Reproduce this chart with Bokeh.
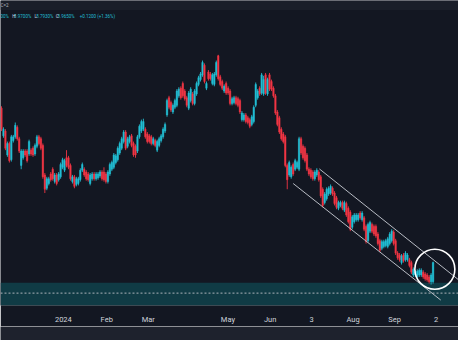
from bokeh.plotting import figure
from bokeh.models import BoxAnnotation, Span, Label, FixedTicker, ColumnDataSource
from bokeh.layouts import column
from bokeh.embed import file_html
from bokeh.resources import INLINE

# daily candles, values in basis points of yield (divide by 100 for %)
open_bp = [
    1059,1030,1035,1010,1022,1005,1025,1029,1039,1027,
    999,1007,1014,1014,1011,1015,1017,1011,1019,1029,
    1027,1020,989,975,980,990,995,982,989,984,
    987,997,994,1007,1007,999,982,987,979,980,
    984,994,995,992,990,980,985,990,985,986,
    988,992,992,990,982,990,995,997,1002,1005,
    1012,1017,1024,1034,1019,1024,1030,1022,1019,1014,
    1029,1035,1037,1037,1032,1030,1029,1022,1025,1015,
    1020,1025,1029,1035,1052,1070,1065,1055,1060,1062,
    1072,1080,1085,1077,1070,1059,1067,1074,1064,1074,
    1084,1089,1094,1104,1080,1097,1095,1085,1084,1094,
    1114,1092,1087,1077,1085,1080,1077,1064,1065,1070,
    1069,1067,1047,1047,1052,1049,1047,1042,1045,1062,
    1070,1080,1075,1074,1094,1074,1094,1087,1080,1072,
    1055,1049,1037,1032,1029,999,989,987,1000,995,
    997,995,1027,1019,1017,1010,995,994,992,985,
    989,992,987,974,960,964,969,970,975,970,
    965,954,957,960,952,959,954,950,934,940,
    942,942,949,942,944,935,920,930,937,935,
    935,927,920,912,914,915,914,917,920,929,
    920,907,905,897,905,900,900,900,897,884,
    884,882,884,884,887,885,884,882,877,877,
]
high_bp = [
    1061,1039,1037,1024,1024,1031,1031,1044,1041,1029,
    1016,1016,1016,1016,1026,1017,1019,1022,1031,1031,
    1029,1022,991,987,987,992,997,991,991,992,
    1002,1007,1006,1015,1009,1001,989,989,987,987,
    996,1002,997,994,992,991,992,992,992,992,
    994,994,997,992,994,1002,1004,1012,1011,1019,
    1024,1029,1036,1036,1029,1031,1032,1024,1021,1031,
    1042,1047,1048,1039,1034,1032,1031,1029,1027,1026,
    1029,1032,1039,1044,1069,1072,1067,1064,1069,1079,
    1081,1082,1087,1079,1072,1077,1081,1076,1079,1087,
    1093,1097,1109,1106,1087,1099,1097,1096,1097,1109,
    1115,1094,1089,1084,1087,1082,1079,1071,1072,1072,
    1071,1069,1056,1054,1054,1051,1049,1052,1062,1086,
    1079,1082,1096,1093,1096,1091,1096,1089,1082,1074,
    1057,1051,1039,1034,1031,1001,1004,999,1002,1006,
    1004,1029,1029,1021,1019,1012,997,996,994,994,
    996,994,989,976,971,976,977,979,977,972,
    967,962,962,962,962,961,956,952,947,949,
    949,949,951,951,946,937,939,941,939,937,
    937,929,922,921,921,922,924,929,932,931,
    922,909,907,906,907,909,907,902,899,892,
    889,890,891,891,889,887,886,884,886,898,
]
low_bp = [
    1035,1028,1015,1008,1002,1003,1023,1027,1025,1012,
    995,1005,1008,1002,1009,1009,1008,1009,1017,1020,
    1015,985,970,973,978,982,983,980,978,982,
    985,995,992,997,995,983,980,975,977,978,
    982,992,987,983,982,978,983,983,983,984,
    986,983,982,980,980,988,993,995,1000,1003,
    1010,1015,1022,1015,1017,1022,1018,1008,1007,1012,
    1027,1033,1035,1027,1022,1022,1020,1020,1018,1013,
    1018,1023,1027,1033,1050,1058,1055,1053,1058,1060,
    1070,1068,1070,1067,1060,1057,1065,1062,1062,1072,
    1082,1087,1092,1085,1078,1088,1088,1083,1082,1092,
    1088,1082,1078,1075,1073,1073,1062,1062,1063,1062,
    1060,1053,1045,1045,1043,1042,1038,1040,1043,1060,
    1068,1072,1073,1072,1073,1072,1077,1077,1070,1052,
    1040,1032,1025,1022,997,974,987,985,988,993,
    995,993,1010,1005,1002,993,988,985,983,983,
    987,982,965,955,958,962,967,968,967,957,
    953,952,955,952,950,945,938,930,932,938,
    940,940,942,940,930,917,918,928,928,925,
    923,915,908,910,912,913,912,915,918,915,
    905,900,898,895,897,898,898,892,885,882,
    882,880,882,882,880,878,877,875,874,875,
]
close_bp = [
    1037,1037,1017,1022,1004,1029,1029,1041,1027,1014,
    1014,1014,1010,1004,1024,1011,1010,1020,1029,1022,
    1017,987,974,985,985,984,985,989,980,990,
    1000,1005,1004,999,997,985,987,977,985,985,
    994,1000,989,985,984,989,990,985,990,990,
    992,985,984,982,992,1000,1002,1010,1009,1017,
    1022,1027,1034,1017,1027,1029,1020,1010,1010,1029,
    1040,1045,1045,1029,1024,1024,1022,1027,1020,1024,
    1027,1030,1037,1042,1067,1060,1057,1062,1067,1077,
    1079,1070,1072,1069,1062,1075,1079,1064,1077,1085,
    1091,1095,1107,1087,1085,1090,1090,1094,1095,1107,
    1090,1084,1080,1082,1075,1075,1064,1069,1070,1064,
    1062,1055,1054,1052,1045,1044,1040,1050,1060,1084,
    1077,1074,1094,1089,1075,1089,1079,1079,1072,1054,
    1042,1034,1027,1024,999,984,1002,997,990,1004,
    1002,1027,1012,1007,1004,995,990,987,985,992,
    994,984,967,957,969,974,975,977,969,959,
    955,960,960,954,960,947,940,932,945,947,
    947,947,944,949,932,919,937,939,930,927,
    925,917,910,919,919,920,922,927,930,917,
    907,902,900,904,899,907,905,894,887,890,
    887,888,889,889,882,880,879,877,884,897,
]

# x-axis month ticks (candle index positions) and labels
tick_pos = [31.4, 53.4, 74.5, 114.9, 136.3, 157.4, 178.4, 199.5, 220.6]
tick_labels = ["2024", "Feb", "Mar", "May", "Jun", "3", "Aug", "Sep", "2"]

# descending channel (candle index, yield %)
upper_x = [161.3, 231.9]
upper_y = [9.953, 8.79]
lower_x = [148.0, 222.9]
lower_y = [9.80, 8.577]
circle_x = [219.9]
circle_y = [8.90]

zone_top = 8.76
zone_mid = 8.65

header_values = ["00%", "8.9700%", "8.7930%", "8.9650%", "+0.1200 (+1.36%)"]
header_letters = ["H", "L", "C"]

BG = "#131722"
UP = "#22bfd4"
DOWN = "#f23645"

n = len(close_bp)
xs = list(range(n))
o = [v / 100 for v in open_bp]
h = [v / 100 for v in high_bp]
l = [v / 100 for v in low_bp]
c = [v / 100 for v in close_bp]
colors = [UP if cc >= oo else DOWN for oo, cc in zip(o, c)]
top = [max(a, b) for a, b in zip(o, c)]
bot = [min(a, b) for a, b in zip(o, c)]
src = ColumnDataSource(dict(x=xs, o=o, h=h, l=l, c=c, color=colors, top=top, bot=bot))

p = figure(width=458, height=326, x_range=(-0.5, 231.9), y_range=(8.52, 11.72),
           output_backend="svg", toolbar_location=None, y_axis_location=None,
           min_border_left=0, min_border_right=0, min_border_top=0, min_border_bottom=20,
           background_fill_color=BG, border_fill_color=BG, outline_line_color=None)
p.grid.visible = False

p.add_layout(BoxAnnotation(bottom=11.62, fill_color="#1a1e29", fill_alpha=1, line_color=None, level="underlay"))
p.add_layout(BoxAnnotation(top=zone_top, fill_color="#103b45", fill_alpha=1, line_color=None, level="underlay"))
p.add_layout(Span(location=zone_mid, dimension="width", line_color="#aeb3bb", line_width=1,
                  line_dash="2 2", level="underlay"))

p.segment(x0="x", y0="l", x1="x", y1="h", line_color="color", line_width=0.9, source=src)
p.vbar(x="x", width=0.72, top="top", bottom="bot", fill_color="color", line_color="color",
       line_width=0.5, source=src)

p.line(upper_x, upper_y, line_color="#b8bcc4", line_width=1)
p.line(lower_x, lower_y, line_color="#b8bcc4", line_width=1)
p.scatter(circle_x, circle_y, marker="circle", size=40, fill_alpha=0, line_color="#ffffff", line_width=1.6)

xa = p.xaxis[0]
xa.ticker = FixedTicker(ticks=tick_pos)
xa.major_label_overrides = {t: lab for t, lab in zip(tick_pos, tick_labels)}
xa.axis_line_color = None
xa.major_tick_line_color = None
xa.minor_tick_line_color = None
xa.major_tick_in = 0
xa.major_tick_out = 0
xa.major_label_standoff = 9
xa.major_label_text_color = "#d1d4dc"
xa.major_label_text_font = "Roboto"
xa.major_label_text_font_size = "7.5px"

# header texts
hf = "Roboto"
p.add_layout(Label(x=-0.5, y=11.67, text="C=2", text_color="#b2b5be", text_font=hf, text_font_size="4.5px",
                   text_baseline="middle"))
hy = 11.55
for xx, t in zip([-0.5, 6.4, 17.6, 28.4, 39.7], header_values):
    p.add_layout(Label(x=xx, y=hy, text=t, text_color=UP, text_font=hf, text_font_size="4.5px",
                       text_baseline="middle"))
for xx, t in zip([5.4, 16.7, 27.5], header_letters):
    p.add_layout(Label(x=xx, y=hy, text=t, text_color="#d1d4dc", text_font=hf, text_font_size="4.5px",
                       text_baseline="middle"))

b = figure(width=458, height=14, output_backend="svg", toolbar_location=None,
           x_axis_location=None, y_axis_location=None, min_border=0,
           background_fill_color="#1e222d", border_fill_color="#1e222d", outline_line_color=None)
b.grid.visible = False

layout = column(p, b, spacing=0)
open("out.html", "w").write(file_html(layout, INLINE))
